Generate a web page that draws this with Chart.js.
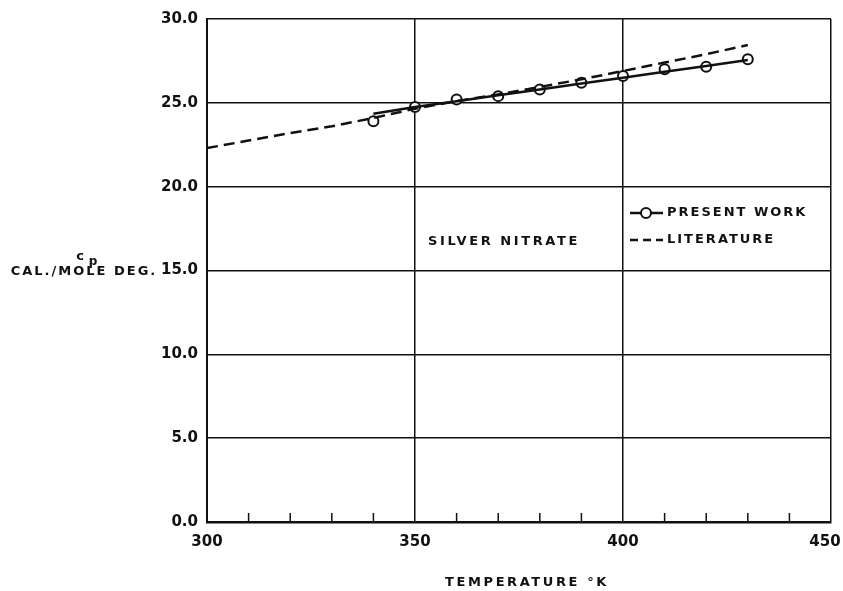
<!DOCTYPE html>
<html>
<head>
<meta charset="utf-8">
<script src="https://cdn.jsdelivr.net/npm/chart.js@4.4.1/dist/chart.umd.min.js"></script>
<style>
  html, body { margin: 0; padding: 0; background: #fff; }
  #wrap { width: 843px; height: 591px; position: relative; }
</style>
</head>
<body>
<div id="wrap"><canvas id="grafico"></canvas></div>
<script>
// Datos
const temperaturas = [340, 350, 360, 370, 380, 390, 400, 410, 420, 430];
const cpPresente = [23.9, 24.75, 25.2, 25.4, 25.8, 26.2, 26.6, 27.0, 27.15, 27.6];
const cpAjuste = [24.35, 24.75, 25.1, 25.45, 25.8, 26.15, 26.5, 26.85, 27.2, 27.55];
const tempLiteratura = [300, 310, 320, 330, 340, 350, 360, 370, 380, 390, 400, 410, 420, 430];
const cpLiteratura = [22.3, 22.75, 23.2, 23.6, 24.1, 24.65, 25.1, 25.5, 25.95, 26.4, 26.9, 27.4, 27.9, 28.45];
const ticksX = [300, 350, 400, 450];
const ticksMenoresX = [310, 320, 330, 340, 360, 370, 380, 390, 410, 420, 430, 440];
const ticksY = [0, 5, 10, 15, 20, 25, 30];

const negro = '#111';
const fuente = '"DejaVu Sans", "Liberation Sans", sans-serif';

// Textos y marcas extra dibujados sobre el canvas
const textosExtra = {
    id: 'textosExtra',
    afterDraw(chart) {
        const ctx = chart.ctx;
        const x = chart.scales.x;
        const y = chart.scales.y;
        ctx.save();
        // marcas menores del eje x (hacia adentro)
        ctx.strokeStyle = negro;
        ctx.lineWidth = 1.5;
        ticksMenoresX.forEach(t => {
            const px = x.getPixelForValue(t);
            ctx.beginPath();
            ctx.moveTo(px, y.bottom);
            ctx.lineTo(px, y.bottom - 9);
            ctx.stroke();
        });

        ctx.fillStyle = negro;
        ctx.textBaseline = 'middle';

        // etiquetas del eje x (la última se recorta a la izquierda para que quepa)
        ctx.font = 'bold 15px ' + fuente;
        ticksX.forEach((t, i) => {
            let px = x.getPixelForValue(t);
            if (i === ticksX.length - 1) px = Math.min(px, chart.width - 18);
            ctx.textAlign = 'center';
            ctx.fillText(String(t), px, y.bottom + 20);
        });

        ctx.font = 'bold 13px ' + fuente;
        ctx.letterSpacing = '2px';

        // leyenda
        ctx.lineWidth = 2.5;
        ctx.beginPath();
        ctx.moveTo(630, 213);
        ctx.lineTo(663, 213);
        ctx.stroke();
        ctx.beginPath();
        ctx.arc(646, 213, 5, 0, Math.PI * 2);
        ctx.fillStyle = '#fff';
        ctx.fill();
        ctx.lineWidth = 2;
        ctx.stroke();
        ctx.fillStyle = negro;
        ctx.textAlign = 'left';
        ctx.fillText('PRESENT WORK', 667, 213);

        ctx.lineWidth = 2.5;
        ctx.setLineDash([8, 5]);
        ctx.beginPath();
        ctx.moveTo(630, 240);
        ctx.lineTo(663, 240);
        ctx.stroke();
        ctx.setLineDash([]);
        ctx.fillText('LITERATURE', 667, 240);

        // nombre de la sustancia
        ctx.letterSpacing = '2.6px';
        ctx.fillText('SILVER NITRATE', 428, 242);

        // título eje x
        ctx.textAlign = 'center';
        ctx.fillText('TEMPERATURE °K', 527, 583);

        // título eje y
        ctx.letterSpacing = '2px';
        ctx.fillText('CAL./MOLE DEG.', 84, 272);
        ctx.letterSpacing = '0px';
        ctx.font = 'bold 13px ' + fuente;
        ctx.fillText('c', 80, 257);
        ctx.font = 'bold 12px ' + fuente;
        ctx.fillText('p', 93, 262);
        ctx.restore();
    }
};

const ctx = document.getElementById('grafico').getContext('2d');
new Chart(ctx, {
    type: 'scatter',
    data: {
        datasets: [
            {
                label: 'Literature',
                data: tempLiteratura.map((t, i) => ({ x: t, y: cpLiteratura[i] })),
                showLine: true,
                borderColor: negro,
                borderWidth: 2.5,
                borderDash: [11, 6],
                pointRadius: 0,
                fill: false
            },
            {
                label: 'Ajuste',
                data: temperaturas.map((t, i) => ({ x: t, y: cpAjuste[i] })),
                showLine: true,
                borderColor: negro,
                borderWidth: 2.5,
                pointRadius: 0,
                fill: false
            },
            {
                label: 'Present work',
                data: temperaturas.map((t, i) => ({ x: t, y: cpPresente[i] })),
                showLine: false,
                pointRadius: 5,
                pointBorderWidth: 2,
                pointBackgroundColor: '#fff',
                pointBorderColor: negro
            }
        ]
    },
    options: {
        responsive: true,
        maintainAspectRatio: false,
        animation: false,
        layout: { autoPadding: false, padding: { top: 19, right: 12, bottom: 0, left: 0 } },
        plugins: {
            legend: { display: false },
            tooltip: { enabled: false }
        },
        scales: {
            x: {
                type: 'linear',
                min: 300,
                max: 450,
                afterFit: s => { s.height = 69; s.paddingLeft = 0; s.paddingRight = 0; },
                afterBuildTicks: s => { s.ticks = ticksX.map(v => ({ value: v })); },
                border: { color: negro, width: 2.5 },
                grid: { color: negro, lineWidth: 1.5, drawTicks: false },
                ticks: { display: false }
            },
            y: {
                min: 0,
                max: 30,
                afterFit: s => { s.width = 207; s.paddingTop = 0; s.paddingBottom = 0; },
                afterBuildTicks: s => { s.ticks = ticksY.map(v => ({ value: v })); },
                border: { color: negro, width: 2 },
                grid: { color: negro, lineWidth: 1.5, drawTicks: false },
                ticks: {
                    color: negro,
                    padding: 9,
                    font: { family: fuente, size: 15, weight: 'bold' },
                    callback: v => v.toFixed(1)
                }
            }
        }
    },
    plugins: [textosExtra]
});
</script>
</body>
</html>
